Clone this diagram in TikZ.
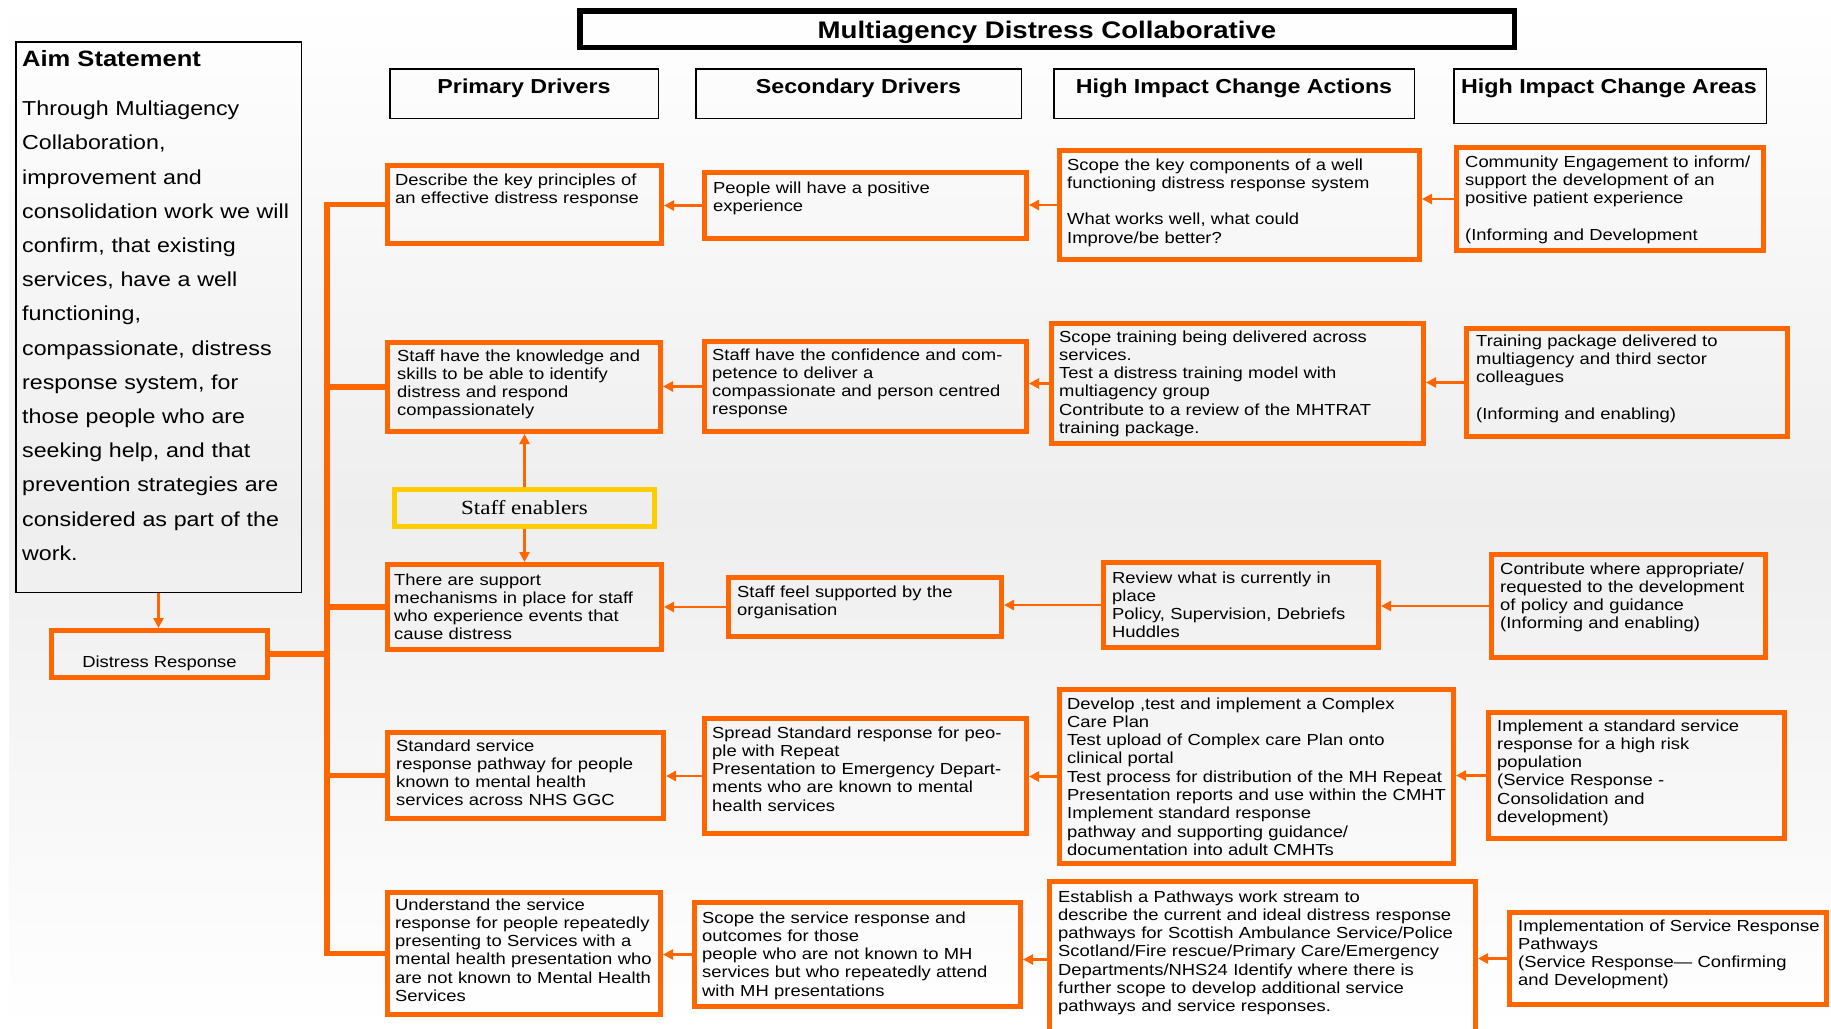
\documentclass[tikz,border=0pt]{standalone}
\usepackage{fontspec}
\setmainfont{Liberation Sans}[FakeStretch=1.15]
\newfontfamily\SEfont{Liberation Serif}[FakeStretch=1.15]
\usetikzlibrary{arrows.meta}
\definecolor{orng}{HTML}{FF6600}
\definecolor{gold}{HTML}{FFCC00}
\definecolor{bgmid}{HTML}{EEEEEE}
\newcommand\mybox[7]{%
  \pgfmathsetmacro\bcx{(#3+#5)/2}%
  \pgfmathsetmacro\bcy{(#4+#6)/2}%
  \pgfmathsetmacro\bw{#5-#3-#7}%
  \pgfmathsetmacro\bh{#6-#4-#7}%
  \node[#1, minimum width=\bw pt, minimum height=\bh pt] (#2) at (\bcx,\bcy) {};%
}
\tikzset{
  obox/.style={draw=orng, line width=5pt, inner sep=0pt},
  hbox/.style={draw=black, line width=1.5pt, inner sep=0pt},
  tbox/.style={draw=black, line width=5.5pt, inner sep=0pt},
  ybox/.style={draw=gold, line width=5pt, inner sep=0pt},
  txt/.style={anchor=base west, inner sep=0pt, align=left, text width=600pt, font=\fontsize{16}{18.3}\selectfont},
  hdr/.style={anchor=base, inner sep=0pt, font=\bfseries\fontsize{20.2}{24}\selectfont},
  ttl/.style={anchor=base, inner sep=0pt, font=\bfseries\fontsize{24}{28}\selectfont},
  aimh/.style={anchor=base west, inner sep=0pt, font=\bfseries\fontsize{22.2}{26}\selectfont},
  aimtxt/.style={anchor=base west, inner sep=0pt, align=left, text width=300pt, font=\fontsize{20.2}{34.2}\selectfont},
  arr/.style={draw=orng, line width=2.5pt, -{Triangle[length=10pt,width=10pt]}},
  trunk/.style={draw=orng, line width=5.5pt},
}
\begin{document}
\begin{tikzpicture}[x=1pt,y=-1pt]
\useasboundingbox (0,0) rectangle (1831,1028);
\shade[top color=white, bottom color=white, middle color=bgmid] (0,0) rectangle (1831,1028);
\fill[white] (0,0) rectangle (9,1028);

% title
\mybox{tbox}{title}{577}{8}{1517}{50}{5.5}
\node[ttl] (titlet) at (1047,38.5) {Multiagency Distress Collaborative};

% aim statement
\mybox{hbox}{aim}{15}{41}{302}{593}{1.5}
\node[aimh] (aimht) at (22,66) {Aim Statement};
\node[aimtxt] (aimb) at (22,115.6) {%
\makebox[271pt][l]{Through Multiagency}\\
\makebox[271pt][l]{Collaboration,}\\
\makebox[271pt][l]{improvement and}\\
\makebox[271pt][s]{consolidation work we will}\\
\makebox[271pt][l]{confirm, that existing}\\
\makebox[271pt][l]{services, have a well}\\
\makebox[271pt][l]{functioning,}\\
\makebox[271pt][s]{compassionate, distress}\\
\makebox[271pt][s]{response system, for}\\
\makebox[271pt][s]{those people who are}\\
\makebox[271pt][s]{seeking help, and that}\\
\makebox[271pt][s]{prevention strategies are}\\
\makebox[271pt][s]{considered as part of the}\\
\makebox[271pt][l]{work.}};

% headers
\mybox{hbox}{hp}{389}{68}{659}{119}{1.5}
\mybox{hbox}{hs}{695}{68}{1022}{119}{1.5}
\mybox{hbox}{ha}{1053}{68}{1415}{119}{1.5}
\mybox{hbox}{hc}{1453}{68}{1767}{124}{1.5}
\node[hdr] (hpt) at (524,93) {Primary Drivers};
\node[hdr] (hst) at (858.5,93) {Secondary Drivers};
\node[hdr] (hat) at (1234,93) {High Impact Change Actions};
\node[hdr] (hct) at (1609,93) {High Impact Change Areas};

% distress response
\mybox{obox}{DR}{49}{628}{270}{680}{5}
\node[anchor=base, inner sep=0pt, font=\fontsize{16}{18.3}\selectfont] (DRt) at (159.5,667) {Distress Response};

% staff enablers
\mybox{ybox}{SE}{392}{487}{657}{529}{5}
\node[anchor=base, inner sep=0pt, font=\SEfont\fontsize{20}{24}\selectfont] (SEt) at (524.5,514) {Staff enablers};

% primary drivers
\mybox{obox}{P1}{385}{163}{664}{246}{5}
\mybox{obox}{P2}{385}{340}{663}{434}{5}
\mybox{obox}{P3}{385}{562}{664}{652}{5}
\mybox{obox}{P4}{385}{730}{666}{821}{5}
\mybox{obox}{P5}{385}{890}{663}{1017}{5}
\node[txt] (P1t) at (395,185) {Describe the key principles of\\an effective distress response};
\node[txt] (P2t) at (397,361) {Staff have the knowledge and\\skills to be able to identify\\distress and respond\\compassionately};
\node[txt] (P3t) at (394,585) {There are support\\mechanisms in place for staff\\who experience events that\\cause distress};
\node[txt] (P4t) at (396,751) {Standard service\\response pathway for people\\known to mental health\\services across NHS GGC};
\node[txt] (P5t) at (395,910) {Understand the service\\response for people repeatedly\\presenting to Services with a\\mental health presentation who\\are not known to Mental Health\\Services};

% secondary drivers
\mybox{obox}{S1}{702}{170}{1029}{241}{5}
\mybox{obox}{S2}{702}{339}{1029}{434}{5}
\mybox{obox}{S3}{726}{575}{1004}{639}{5}
\mybox{obox}{S4}{702}{716}{1029}{836}{5}
\mybox{obox}{S5}{692}{900}{1023}{1009}{5}
\node[txt] (S1t) at (713,193) {People will have a positive\\experience};
\node[txt] (S2t) at (712,360) {Staff have the confidence and com-\\petence to deliver a\\compassionate and person centred\\response};
\node[txt] (S3t) at (737,597) {Staff feel supported by the\\organisation};
\node[txt] (S4t) at (712,738) {Spread Standard response for peo-\\ple with Repeat\\Presentation to Emergency Depart-\\ments who are known to mental\\health services};
\node[txt] (S5t) at (702,923) {Scope the service response and\\outcomes for those\\people who are not known to MH\\services but who repeatedly attend\\with MH presentations};

% actions
\mybox{obox}{A1}{1057}{148}{1422}{262}{5}
\mybox{obox}{A2}{1049}{321}{1426}{446}{5}
\mybox{obox}{A3}{1101}{560}{1381}{650}{5}
\mybox{obox}{A4}{1057}{687}{1456}{866}{5}
\mybox{obox}{A5}{1047}{879}{1478}{1040}{5}
\node[txt] (A1t) at (1067,170) {Scope the key components of a well\\functioning distress response system\\[18.3pt]What works well, what could\\Improve/be better?};
\node[txt] (A2t) at (1059,342) {Scope training being delivered across\\services.\\Test a distress training model with\\multiagency group\\Contribute to a review of the MHTRAT\\training package.};
\node[txt] (A3t) at (1112,583) {Review what is currently in\\place\\Policy, Supervision, Debriefs\\Huddles};
\node[txt] (A4t) at (1067,709) {Develop ,test and implement a Complex\\Care Plan\\Test upload of Complex care Plan onto\\clinical portal\\Test process for distribution of the MH Repeat\\Presentation reports and use within the CMHT\\Implement standard response\\pathway and supporting guidance/\\documentation into adult CMHTs};
\node[txt] (A5t) at (1058,902) {Establish a Pathways work stream to\\describe the current and ideal distress response\\pathways for Scottish Ambulance Service/Police\\Scotland/Fire rescue/Primary Care/Emergency\\Departments/NHS24 Identify where there is\\further scope to develop additional service\\pathways and service responses.};

% change areas
\mybox{obox}{C1}{1454}{145}{1766}{253}{5}
\mybox{obox}{C2}{1464}{326}{1790}{439}{5}
\mybox{obox}{C3}{1489}{552}{1768}{660}{5}
\mybox{obox}{C4}{1486}{710}{1787}{841}{5}
\mybox{obox}{C5}{1507}{910}{1829}{1007}{5}
\node[txt] (C1t) at (1465,167) {Community Engagement to inform/\\support the development of an\\positive patient experience\\[18.3pt](Informing and Development};
\node[txt] (C2t) at (1476,346) {Training package delivered to\\multiagency and third sector\\colleagues\\[18.3pt](Informing and enabling)};
\node[txt] (C3t) at (1500,574) {Contribute where appropriate/\\requested to the development\\of policy and guidance\\(Informing and enabling)};
\node[txt] (C4t) at (1497,731) {Implement a standard service\\response for a high risk\\population\\(Service Response -\\Consolidation and\\development)};
\node[txt] (C5t) at (1518,931) {Implementation of Service Response\\Pathways\\(Service Response--- Confirming\\and Development)};

% trunk
\coordinate (tk) at (327,0);
\draw[trunk] (P1.west) -- (P1.west -| tk) -- (P5.west -| tk) -- (P5.west);
\draw[trunk] (P2.west -| tk) -- (P2.west);
\draw[trunk] (P3.west -| tk) -- (P3.west);
\draw[trunk] (P4.west -| tk) -- (P4.west);
\draw[trunk] (DR.east) -- (DR.east -| tk);

% arrows
\draw[arr] (aim.south) -- (aim.south |- DR.north);
\draw[arr] (SE.north) -- (SE.north |- P2.south);
\draw[arr] (SE.south) -- (SE.south |- P3.north);
\foreach \r in {1,...,5}{
  \draw[arr] (S\r.west) -- (S\r.west -| P\r.east);
  \draw[arr] (A\r.west) -- (A\r.west -| S\r.east);
  \draw[arr] (C\r.west) -- (C\r.west -| A\r.east);
}
\end{tikzpicture}
\end{document}
